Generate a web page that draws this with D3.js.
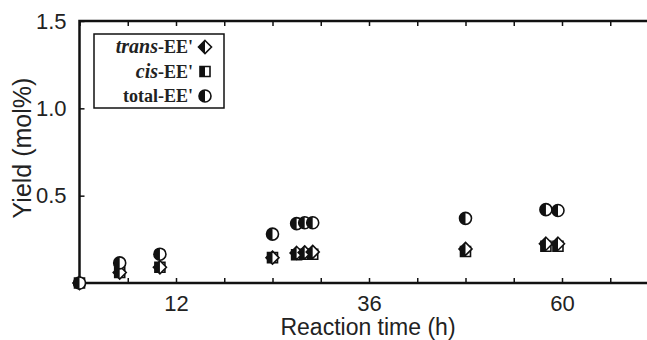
<!DOCTYPE html>
<html><head><meta charset="utf-8">
<script src="https://cdn.jsdelivr.net/npm/d3@7"></script>
<style>html,body{margin:0;padding:0;background:#fff;overflow:hidden}</style>
</head><body>
<svg id="c" width="647" height="340"></svg>
<script>
// Data
const timeH   = [0, 5, 10, 24, 27, 28, 29, 48, 58, 59.5];
const totalEE = [0, 0.115, 0.165, 0.28, 0.34, 0.345, 0.345, 0.37, 0.42, 0.415];
const transEE = [0, 0.06, 0.09, 0.145, 0.172, 0.175, 0.178, 0.195, 0.225, 0.225];
const cisEE   = [0, 0.06, 0.09, 0.145, 0.162, 0.165, 0.165, 0.18, 0.21, 0.21];
const xTicks = [0, 6, 12, 18, 24, 30, 36, 42, 48, 54, 60, 66, 72];
const xTickLabels = {12: "12", 36: "36", 60: "60"};
const yTicks = [0, 0.5, 1.0, 1.5];
const yTickLabels = {0.5: "0.5", 1: "1.0", 1.5: "1.5"};
const legendItems = [
  {pre: "trans", post: "-EE'", shape: "diamond"},
  {pre: "cis", post: "-EE'", shape: "square"},
  {pre: "", post: "total-EE'", shape: "circle"}
];

const svg = d3.select("#c");
const x = d3.scaleLinear().domain([0, 72]).range([79.5, 658.5]);
const y = d3.scaleLinear().domain([0, 1.5]).range([283, 21]);
const sans = "Liberation Sans, Arial, Helvetica, sans-serif";
const serif = "Liberation Serif, Times New Roman, serif";

// axes
const gb = svg.append("g").attr("transform", `translate(0,${y(0)})`)
  .call(d3.axisBottom(x).tickValues(xTicks).tickSizeInner(-5).tickSizeOuter(0).tickPadding(12)
    .tickFormat(d => xTickLabels[d] || ""));
const gt = svg.append("g").attr("transform", `translate(0,${y(1.5)})`)
  .call(d3.axisTop(x).tickValues(xTicks).tickSizeInner(-5).tickSizeOuter(0).tickFormat(""));
const gl = svg.append("g").attr("transform", `translate(${x(0)},0)`)
  .call(d3.axisLeft(y).tickValues(yTicks).tickSizeInner(-5).tickSizeOuter(0).tickPadding(13)
    .tickFormat(d => yTickLabels[d] || ""));
[gb, gt, gl].forEach(g => {
  g.select(".domain").remove();
  g.selectAll(".tick line").attr("stroke", "#111").attr("stroke-width", 1.5);
  g.selectAll("text").attr("fill", "#222").style("font-family", sans).style("font-size", "22px");
});

// frame
svg.append("path")
  .attr("d", `M${x(72)},${y(1.5)}H${x(0)}V${y(0)}H${x(72)}`)
  .attr("fill", "none").attr("stroke", "#111").attr("stroke-width", 2.5);

// titles
svg.append("text").attr("x", 368).attr("y", 335).attr("text-anchor", "middle")
  .style("font-family", sans).style("font-size", "23px").attr("fill", "#222")
  .text("Reaction time (h)");
svg.append("text").attr("transform", "translate(31,148) rotate(-90)").attr("text-anchor", "middle")
  .style("font-family", sans).style("font-size", "25px").attr("fill", "#222")
  .text("Yield (mol%)");

// half-filled markers
function marker(g, shape, cx, cy) {
  let full, half;
  if (shape === "circle") {
    const r = 6;
    full = `M${cx},${cy - r}A${r},${r} 0 1,1 ${cx},${cy + r}A${r},${r} 0 1,1 ${cx},${cy - r}Z`;
    half = `M${cx},${cy - r}A${r},${r} 0 0,0 ${cx},${cy + r}Z`;
  } else if (shape === "diamond") {
    const r = 6.5;
    full = `M${cx},${cy - r}L${cx + r},${cy}L${cx},${cy + r}L${cx - r},${cy}Z`;
    half = `M${cx},${cy - r}L${cx - r},${cy}L${cx},${cy + r}Z`;
  } else {
    const r = 5;
    full = `M${cx - r},${cy - r}H${cx + r}V${cy + r}H${cx - r}Z`;
    half = `M${cx - r},${cy - r}H${cx}V${cy + r}H${cx - r}Z`;
  }
  g.append("path").attr("d", full).attr("fill", "#fff").attr("stroke", "#111").attr("stroke-width", 1.6);
  g.append("path").attr("d", half).attr("fill", "#111");
}

const gm = svg.append("g");
timeH.forEach((t, i) => marker(gm, "square", x(t), y(cisEE[i])));
timeH.forEach((t, i) => marker(gm, "diamond", x(t), y(transEE[i])));
timeH.forEach((t, i) => marker(gm, "circle", x(t), y(totalEE[i])));

// legend
const lg = svg.append("g");
lg.append("rect").attr("x", 94).attr("y", 34).attr("width", 130).attr("height", 74)
  .attr("fill", "#fff").attr("stroke", "#111").attr("stroke-width", 1.5);
legendItems.forEach((d, i) => {
  const yy = 47 + i * 24.5;
  const t = lg.append("text").attr("x", 193).attr("y", yy + 6).attr("text-anchor", "end")
    .style("font-family", serif).style("font-size", "18px").style("font-weight", "bold").attr("fill", "#222");
  if (d.pre) t.append("tspan").style("font-style", "italic").style("font-size", "20px").text(d.pre);
  t.append("tspan").text(d.post);
  marker(lg, d.shape, 205, yy);
});
</script>
</body></html>
